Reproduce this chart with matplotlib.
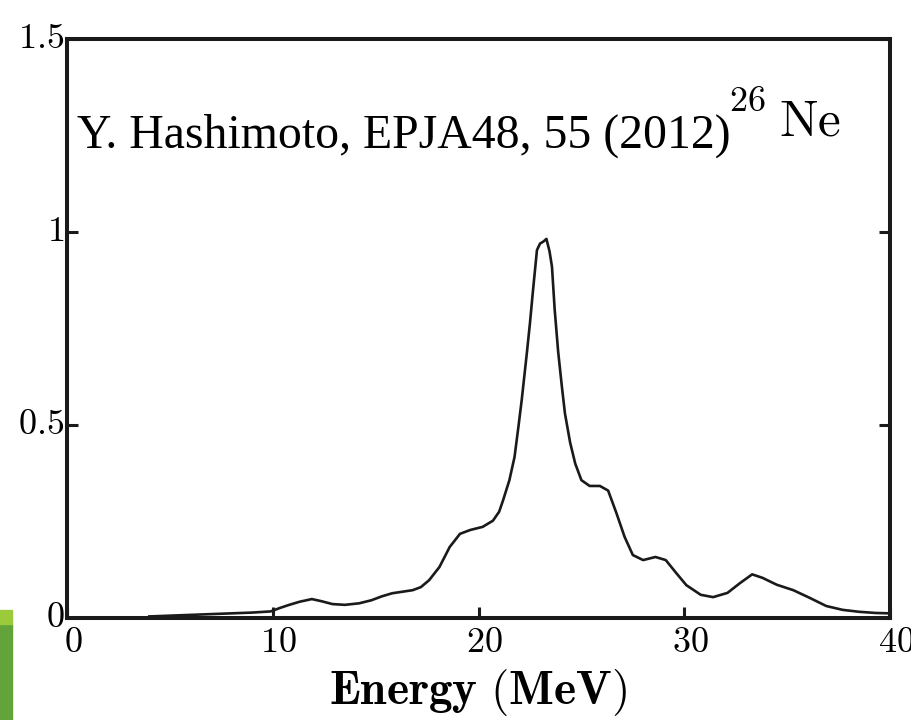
#!/usr/bin/env python3

import matplotlib
matplotlib.use('Agg')
import matplotlib.pyplot as plt
import matplotlib.transforms as mtransforms
from matplotlib.patches import Rectangle

# strength function
energy = [4.0, 5.0, 6.0, 7.0, 8.0, 9.0, 9.9, 10.35, 10.8, 11.3, 11.9, 12.4,
          12.9, 13.5, 14.2, 14.8, 15.3, 15.8, 16.3, 16.8, 17.2, 17.6, 18.1,
          18.6, 19.1, 19.6, 20.2, 20.7, 21.0, 21.2, 21.5, 21.75, 21.95, 22.1,
          22.35, 22.5, 22.65, 22.84, 22.99, 23.15, 23.3, 23.45, 23.57, 23.7,
          23.87, 24.05, 24.2, 24.45, 24.7, 25.0, 25.4, 25.9, 26.3, 26.7, 27.1,
          27.5, 28.0, 28.6, 29.1, 29.6, 30.1, 30.8, 31.4, 32.1, 32.7, 33.3,
          33.8, 34.5, 35.3, 36.1, 36.9, 37.7, 38.5, 39.3, 40.0]
strength = [0.004, 0.006, 0.008, 0.010, 0.012, 0.014, 0.017, 0.026, 0.034,
            0.042, 0.049, 0.043, 0.036, 0.034, 0.038, 0.046, 0.056, 0.064,
            0.068, 0.072, 0.080, 0.098, 0.132, 0.184, 0.218, 0.228, 0.236,
            0.252, 0.275, 0.306, 0.357, 0.417, 0.50, 0.565, 0.687, 0.764,
            0.85, 0.953, 0.97, 0.975, 0.982, 0.95, 0.91, 0.80, 0.69, 0.60,
            0.53, 0.455, 0.40, 0.357, 0.342, 0.342, 0.330, 0.272, 0.21,
            0.163, 0.150, 0.158, 0.150, 0.117, 0.085, 0.060, 0.054, 0.065,
            0.090, 0.113, 0.104, 0.086, 0.072, 0.052, 0.031, 0.021, 0.016,
            0.013, 0.012]

xticks = [0, 10, 20, 30, 40]
xticklabels = ['0', '10', '20', '30', '40']
yticks = [0, 0.5, 1, 1.5]
yticklabels = ['0', '0.5', '1', '1.5']

reference = 'Y. Hashimoto, EPJA48, 55 (2012)'
nucleus_mass = '26'
nucleus = 'Ne'
xlabel = 'Energy (MeV)'


def getPlot():
    plt.rcParams['mathtext.fontset'] = 'cm'
    fig = plt.figure(figsize=(9.12, 7.2), dpi=100)
    ax = fig.add_axes([0.0735, 0.1417, 0.9024, 0.8042])

    ax.plot(energy, strength, color='#1a1a1a', lw=1.9)
    ax.set_xlim(0, 40)
    ax.set_ylim(0, 1.5)

    for s in ax.spines.values():
        s.set_linewidth(2.9)
        s.set_color('#1a1a1a')

    ax.set_xticks(xticks)
    ax.set_xticklabels(['$\\mathrm{%s}$' % t for t in xticklabels])
    ax.set_yticks(yticks)
    ax.set_yticklabels(['$\\mathrm{%s}$' % t for t in yticklabels])
    ax.tick_params(direction='in', length=8, width=2.2, color='#1a1a1a',
                   labelsize=26, right=True)
    ax.tick_params(axis='x', pad=5)
    ax.tick_params(axis='y', pad=2)

    # labels sit a bit off their ticks in the original
    dx = mtransforms.ScaledTranslation(0.06, 0, fig.dpi_scale_trans)
    for lab in ax.get_xticklabels():
        lab.set_transform(lab.get_transform() + dx)
    dy = mtransforms.ScaledTranslation(0, 0.04, fig.dpi_scale_trans)
    for lab in ax.get_yticklabels():
        lab.set_transform(lab.get_transform() + dy)

    ax.set_xlabel('$\\mathbf{Energy\\ (MeV)}$', fontsize=34, labelpad=6)

    fig.text(77 / 912, 1 - 148 / 720, reference, family='Liberation Serif',
             fontsize=34.4, va='baseline', ha='left')
    fig.text(729 / 912, 1 - 111 / 720, '$\\mathrm{%s}$' % nucleus_mass,
             fontsize=26, va='baseline', ha='left')
    fig.text(779 / 912, 1 - 136 / 720, '$\\mathrm{%s}$' % nucleus,
             fontsize=37, va='baseline', ha='left')

    # slide decoration in the lower left corner
    fig.patches.append(Rectangle((0, 0), 12 / 912, 96 / 720,
                                 transform=fig.transFigure,
                                 color='#62a33a', zorder=0))
    fig.patches.append(Rectangle((0, 96 / 720), 12 / 912, 14 / 720,
                                 transform=fig.transFigure,
                                 color='#9bcb3b', zorder=0))

    fig.savefig('out.png', dpi=100)


def main():
    getPlot()


if __name__ == "__main__":
    main()
